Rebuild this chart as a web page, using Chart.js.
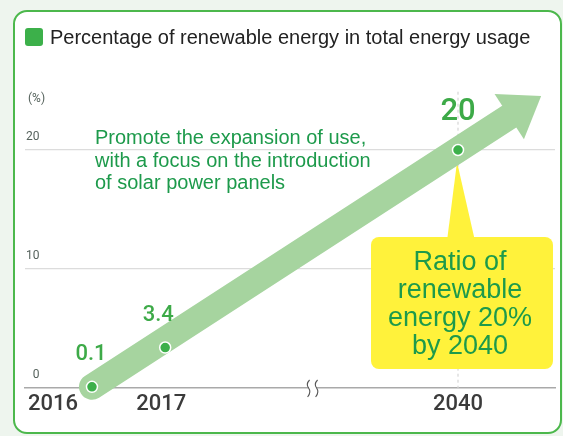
<!DOCTYPE html>
<html><head><meta charset="utf-8">
<script src="https://cdn.jsdelivr.net/npm/chart.js@4/dist/chart.umd.min.js"></script>
<style>
html,body{margin:0;padding:0;background:#eef5ee;}
#wrap{position:relative;width:563px;height:436px;overflow:hidden;}
#frame{position:absolute;left:13px;top:10px;width:549px;height:424px;box-sizing:border-box;border:2.5px solid #4cb84c;border-radius:14px;background:#fff;}
canvas{position:absolute;left:0;top:0;}
</style></head>
<body><div id="wrap"><div id="frame"></div><canvas id="c" width="563" height="436"></canvas></div>
<script>
// ---- data ----
const chartTitle = 'Percentage of renewable energy in total energy usage';
const years = ['2016', '2017', '2040'];
const axisSlots = [0, 1, 5];          // place of each year on the broken time axis
const values = [0.1, 3.4, 20];         // % renewable
const valueLabels = ['0.1', '3.4', '20'];
const yTickValues = [0, 10, 20];
const unitLabel = '(%)';
const trendFrom = { x: 0, y: 0.1 };
const trendTo = { x: 5.7, y: 22.8 };   // end of the trend arrow shaft
const axisBreakAt = 3;                 // slot of the axis break mark
const noteLines = ['Promote the expansion of use,', 'with a focus on the introduction', 'of solar power panels'];
const calloutLines = ['Ratio of', 'renewable', 'energy 20%', 'by 2040'];

const GREEN = '#3cb04a';
const TEXT_GREEN = '#1d9a4b';
const ARROW = '#a6d49f';

Chart.defaults.font.family = "Roboto, 'Liberation Sans', sans-serif";

const decor = {
  id: 'decor',
  beforeDatasetsDraw(chart) {
    const { ctx, scales: { x, y }, chartArea } = chart;
    ctx.save();
    // dashed vertical guide at 2040
    const gx = x.getPixelForValue(axisSlots[2]);
    ctx.strokeStyle = '#d6d6d6';
    ctx.lineWidth = 1.2;
    ctx.setLineDash([3, 3]);
    ctx.beginPath();
    ctx.moveTo(gx, y.getPixelForValue(24.9));
    ctx.lineTo(gx, chartArea.bottom);
    ctx.stroke();
    ctx.setLineDash([]);

    // yellow callout with pointer
    const py = y.getPixelForValue(values[2]);
    const left = gx - 87, right = gx + 95, top = py + 87, bottom = py + 219;
    ctx.fillStyle = '#fff23b';
    ctx.beginPath();
    ctx.moveTo(gx - 1, py + 12);
    ctx.lineTo(gx - 11, top + 4);
    ctx.lineTo(gx + 17, top + 4);
    ctx.closePath();
    ctx.fill();
    ctx.beginPath();
    ctx.roundRect(left, top, right - left, bottom - top, 8);
    ctx.fill();
    ctx.fillStyle = TEXT_GREEN;
    ctx.font = "27px 'Liberation Sans', Arial, sans-serif";
    ctx.textAlign = 'center';
    ctx.textBaseline = 'alphabetic';
    calloutLines.forEach((t, i) => ctx.fillText(t, gx + 2, top + 33 + i * 28));
    ctx.restore();
  },
  afterDatasetsDraw(chart) {
    const { ctx, scales: { x, y }, chartArea } = chart;
    ctx.save();
    // arrow head
    const meta = chart.getDatasetMeta(1);
    const p0 = meta.data[0], p1 = meta.data[1];
    const dx = p1.x - p0.x, dy = p1.y - p0.y, L = Math.hypot(dx, dy);
    const ux = dx / L, uy = dy / L, nx = -uy, ny = ux;
    ctx.fillStyle = ARROW;
    ctx.beginPath();
    ctx.moveTo(p1.x + ux * 38, p1.y + uy * 38);
    ctx.lineTo(p1.x + nx * 27, p1.y + ny * 27);
    ctx.lineTo(p1.x - nx * 27, p1.y - ny * 27);
    ctx.closePath();
    ctx.fill();

    // value labels
    ctx.fillStyle = '#3daa48';
    ctx.textAlign = 'center';
    ctx.textBaseline = 'alphabetic';
    const pts = chart.getDatasetMeta(0).data;
    pts.forEach((p, i) => {
      if (i === 2) {
        ctx.font = "500 31px Roboto, sans-serif";
        ctx.fillText(valueLabels[i], p.x, p.y - 30);
      } else {
        ctx.font = "500 22px Roboto, sans-serif";
        ctx.fillText(valueLabels[i], p.x - (i === 0 ? 1 : 7), p.y - 27);
      }
    });

    // year labels
    ctx.fillStyle = '#3b3b3b';
    ctx.font = "500 22px Roboto, sans-serif";
    years.forEach((t, i) => {
      const px = x.getPixelForValue(axisSlots[i]);
      if (i === 0) { ctx.textAlign = 'right'; ctx.fillText(t, px - 14, chartArea.bottom + 22); }
      else { ctx.textAlign = 'center'; ctx.fillText(t, px - (i === 1 ? 4 : 0), chartArea.bottom + 22); }
    });

    // note text
    ctx.fillStyle = TEXT_GREEN;
    ctx.font = "20px 'Liberation Sans', Arial, sans-serif";
    ctx.textAlign = 'left';
    const ny20 = y.getPixelForValue(20);
    noteLines.forEach((t, i) => ctx.fillText(t, chartArea.left + 70, ny20 - 6 + i * 22.5));

    // unit label
    ctx.fillStyle = '#55625c';
    ctx.font = "12px Roboto, sans-serif";
    ctx.fillText(unitLabel, chartArea.left + 3, y.getPixelForValue(20) - 48);
    ctx.restore();
  },
  afterDraw(chart) {
    const { ctx, scales: { x }, chartArea } = chart;
    const bx = x.getPixelForValue(axisBreakAt);
    const by = chartArea.bottom;
    ctx.save();
    ctx.fillStyle = '#fff';
    ctx.fillRect(bx - 3, by - 2, 8, 4);
    ctx.strokeStyle = '#555';
    ctx.lineWidth = 1.1;
    [bx - 3, bx + 5].forEach(sx => {
      ctx.beginPath();
      ctx.moveTo(sx + 1, by - 8);
      ctx.quadraticCurveTo(sx - 3, by - 4, sx, by);
      ctx.quadraticCurveTo(sx + 3, by + 4, sx - 1, by + 9);
      ctx.stroke();
    });
    ctx.restore();

    // title
    ctx.save();
    ctx.fillStyle = GREEN;
    ctx.beginPath();
    ctx.roundRect(25, 28, 18, 18, 3);
    ctx.fill();
    ctx.fillStyle = '#222';
    ctx.font = "20px 'Liberation Sans', Arial, sans-serif";
    ctx.textAlign = 'left';
    ctx.textBaseline = 'alphabetic';
    ctx.fillText(chartTitle, 50, 44);
    ctx.restore();
  }
};

new Chart(document.getElementById('c'), {
  type: 'line',
  data: {
    datasets: [
      {
        label: 'Renewable share',
        data: years.map((yr, i) => ({ x: axisSlots[i], y: values[i] })),
        showLine: false,
        pointRadius: 5.5,
        pointBackgroundColor: GREEN,
        pointBorderColor: '#fff',
        pointBorderWidth: 1.5,
        clip: false
      },
      {
        label: 'Trend',
        data: [trendFrom, trendTo],
        borderColor: ARROW,
        borderWidth: 26,
        borderCapStyle: 'round',
        pointRadius: 0,
        clip: false
      }
    ]
  },
  options: {
    responsive: false,
    animation: false,
    devicePixelRatio: 1,
    layout: { autoPadding: false, padding: { left: 23, right: 8, top: 150, bottom: 48 } },
    plugins: { legend: { display: false }, tooltip: { enabled: false }, title: { display: false } },
    scales: {
      x: {
        type: 'linear',
        min: -0.915,
        max: 6.325,
        grid: { display: false, drawTicks: false },
        ticks: { display: false },
        border: { display: true, color: '#a9a9a9', width: 1.5 }
      },
      y: {
        min: 0,
        max: 20,
        afterBuildTicks: s => { s.ticks = yTickValues.map(v => ({ value: v })); },
        grid: { drawTicks: false, color: c => c.tick && c.tick.value === 0 ? 'rgba(0,0,0,0)' : '#dcdcdc', lineWidth: 1.2 },
        border: { display: false },
        ticks: {
          mirror: true,
          crossAlign: 'far',
          padding: 1,
          labelOffset: -13,
          color: '#55625c',
          font: { size: 12 }
        }
      }
    }
  },
  plugins: [decor]
});
</script>
</body></html>
